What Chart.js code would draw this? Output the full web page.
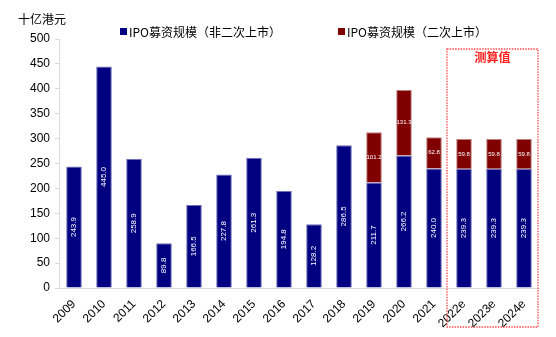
<!DOCTYPE html>
<html lang="zh">
<head>
<meta charset="UTF-8">
<title>港股IPO募资规模</title>
<script src="https://cdn.jsdelivr.net/npm/chart.js"></script>
<style>
    html, body { margin: 0; padding: 0; background: #fff; }
    #wrap { width: 556px; height: 337px; }
</style>
</head>
<body>
<div id="wrap"><canvas id="ipoChart" width="556" height="337"></canvas></div>
<script>
// 年份（e 为测算值）
const years = ['2009', '2010', '2011', '2012', '2013', '2014', '2015', '2016',
               '2017', '2018', '2019', '2020', '2021', '2022e', '2023e', '2024e'];
// 非二次上市募资规模，十亿港元
const firstListing = [243.9, 445.0, 258.9, 89.8, 166.5, 227.8, 261.3, 194.8,
                      128.2, 286.5, 211.7, 266.2, 240.0, 239.3, 239.3, 239.3];
// 二次上市募资规模，十亿港元
const secondListing = [null, null, null, null, null, null, null, null,
                       null, null, 101.2, 131.3, 62.8, 59.8, 59.8, 59.8];
const seriesNames = ['IPO募资规模（非二次上市）', 'IPO募资规模（二次上市）'];
const estimateFrom = 13;

const cjk = '"Noto Sans CJK SC", "Liberation Sans", sans-serif';
const latin = '"Liberation Sans", Arial, sans-serif';

// 柱内数值、图例、单位和测算值框
const extras = {
    id: 'extras',
    afterDatasetsDraw(chart) {
        const ctx = chart.ctx;
        ctx.save();
        ctx.fillStyle = '#fff';
        ctx.textAlign = 'center';
        ctx.textBaseline = 'middle';
        chart.data.datasets.forEach((ds, di) => {
            const meta = chart.getDatasetMeta(di);
            meta.data.forEach((bar, i) => {
                const v = ds.data[i];
                if (v == null) return;
                const cy = (bar.y + bar.base) / 2;
                const txt = v.toFixed(1);
                if (di === 0) {
                    ctx.save();
                    ctx.translate(bar.x, cy);
                    ctx.rotate(-Math.PI / 2);
                    ctx.font = '8px ' + latin;
                    ctx.fillText(txt, 0, 0);
                    ctx.restore();
                } else {
                    ctx.font = '6px ' + latin;
                    ctx.fillText(txt, bar.x, cy);
                }
            });
        });
        ctx.restore();
    },
    afterDraw(chart) {
        const ctx = chart.ctx;
        const x = chart.scales.x;
        ctx.save();
        // 单位
        ctx.fillStyle = '#000';
        ctx.font = '12px ' + cjk;
        ctx.textBaseline = 'middle';
        ctx.textAlign = 'left';
        ctx.fillText('十亿港元', 18, 19);

        // 图例
        const legendX = [120, 338];
        chart.data.datasets.forEach((ds, di) => {
            ctx.fillStyle = ds.backgroundColor;
            ctx.fillRect(legendX[di], 28, 7, 7);
            ctx.fillStyle = '#000';
            ctx.font = '12px ' + cjk;
            ctx.fillText(ds.label, legendX[di] + 9, 32);
        });

        // 测算值虚线框
        const step = x.getPixelForTick(1) - x.getPixelForTick(0);
        const left = x.getPixelForTick(estimateFrom) - step / 2 - 2;
        const right = x.getPixelForTick(years.length - 1) + step / 2 - 1;
        ctx.strokeStyle = '#ff4a4a';
        ctx.lineWidth = 1.3;
        ctx.setLineDash([1.5, 1.2]);
        ctx.strokeRect(left, 49, right - left, 278);
        ctx.setLineDash([]);
        ctx.fillStyle = '#ff2020';
        ctx.font = 'bold 12px ' + cjk;
        ctx.textAlign = 'center';
        ctx.fillText('测算值', (left + right) / 2, 57);
        ctx.restore();
    }
};

new Chart(document.getElementById('ipoChart'), {
    type: 'bar',
    data: {
        labels: years,
        datasets: [
            {
                label: seriesNames[0],
                data: firstListing,
                backgroundColor: '#000080',
                borderColor: '#7070b8',
                borderWidth: 1
            },
            {
                label: seriesNames[1],
                data: secondListing,
                backgroundColor: '#800000',
                borderColor: '#c08080',
                borderWidth: 1
            }
        ]
    },
    options: {
        responsive: false,
        animation: false,
        layout: { padding: { top: 39, right: 17, left: 0, bottom: 0 } },
        datasets: { bar: { barPercentage: 0.52, categoryPercentage: 1 } },
        plugins: { legend: { display: false }, tooltip: { enabled: false } },
        scales: {
            x: {
                stacked: true,
                grid: { drawOnChartArea: false, drawTicks: false },
                border: { color: '#d9d9d9', width: 1 },
                ticks: {
                    color: '#000',
                    font: { family: latin, size: 12 },
                    minRotation: 45,
                    maxRotation: 45,
                    padding: 9
                },
                afterFit(scale) { scale.height = 49; }
            },
            y: {
                stacked: true,
                min: 0,
                max: 500,
                grid: { drawOnChartArea: false, tickLength: 4, color: '#d9d9d9' },
                border: { color: '#d9d9d9', width: 1 },
                ticks: {
                    stepSize: 50,
                    color: '#000',
                    font: { family: latin, size: 12 },
                    padding: 5
                },
                afterFit(scale) { scale.width = 59; }
            }
        }
    },
    plugins: [extras]
});
</script>
</body>
</html>
